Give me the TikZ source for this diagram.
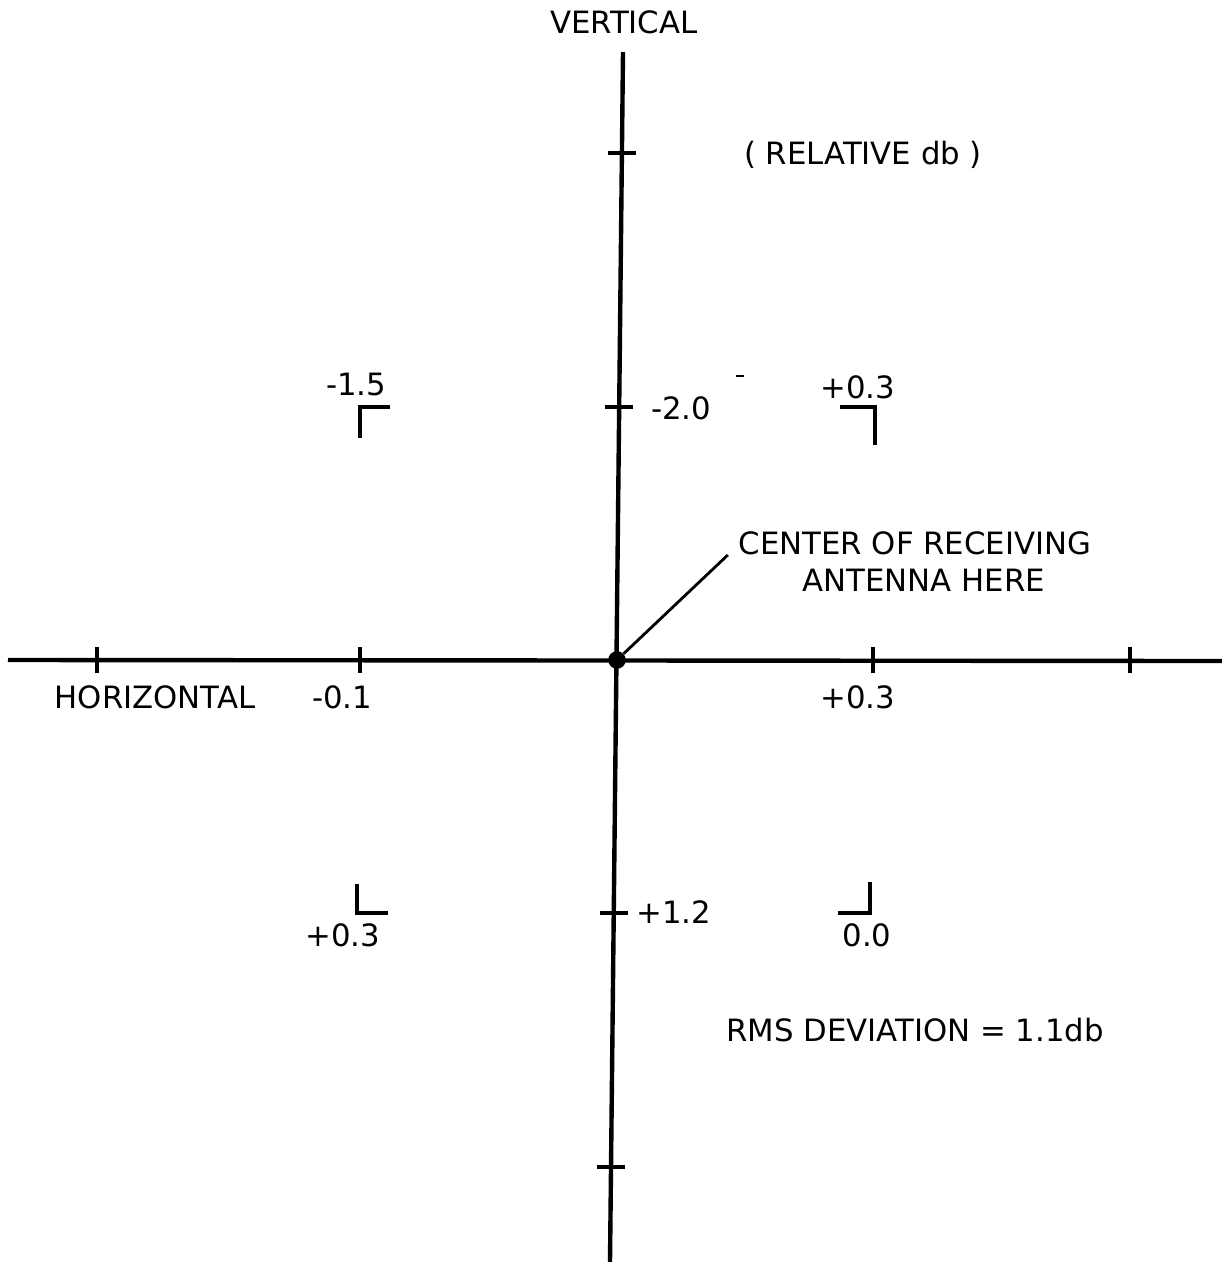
\documentclass[tikz,border=0pt]{standalone}
\usepackage{fontspec}
\setmainfont{DejaVu Sans}
\usetikzlibrary{positioning}

\begin{document}
\begin{tikzpicture}[
  x=0.02cm,y=-0.02cm,
  font=\fontsize{17.5}{22}\selectfont,
  axis/.style={line width=2.5pt},
  tickmark/.style={line width=2.2pt},
  corner/.style={line width=2.2pt},
  lbl/.style={inner sep=0pt,anchor=center},
  leader/.style={line width=1.6pt}
]
\useasboundingbox (0,0) rectangle (1222,1262);

% -------------------------------------------------------------------------
% Axes
% -------------------------------------------------------------------------
\coordinate (vtop) at (623,52);
\coordinate (vbot) at (610,1262);
\coordinate (hleft) at (8,660);
\coordinate (hright) at (1222,661);
\draw[axis] (vtop) -- (vbot);
\draw[axis] (hleft) -- (hright);
\foreach \x in {97,360,873,1130}
  {\draw[tickmark] (\x,647) -- (\x,673);}
\foreach \x/\y in {622/153,619/407,614/913,611/1167}
  {\draw[tickmark] (\x-14,\y) -- (\x+14,\y);}

\node[lbl] (vertical) at (624,22) {VERTICAL};
\node[lbl] (horizontal) at (155,697) {HORIZONTAL};
\node[lbl] (relative) at (863,155) {( RELATIVE db )};

% -------------------------------------------------------------------------
% Readings
% -------------------------------------------------------------------------
\draw[corner] (390,407) -- (360,407) -- (360,438);
\draw[corner] (840,407) -- (875,407) -- (875,445);
\draw[corner] (357,884) -- (357,913) -- (388,913);
\draw[corner] (838,913) -- (870,913) -- (870,882);

\node[lbl] (tl) at (356,385) {-1.5};
\node[lbl] (tr) at (858,387) {+0.3};
\node[lbl] (bl) at (343,935) {+0.3};
\node[lbl] (br) at (867,935) {0.0};
\node[lbl] (top) at (681,408) {-2.0};
\node[lbl] (bottom) at (674,912) {+1.2};
\node[lbl] (left) at (342,697) {-0.1};
\node[lbl] (right) at (858,697) {+0.3};
\draw[line width=1.2pt] (736,376) -- (744,376);

% -------------------------------------------------------------------------
% Centre of antenna
% -------------------------------------------------------------------------
\node[circle,fill,inner sep=0pt,minimum size=10pt] (center) at (617,660) {};
\node[lbl] (antenna1) at (915,543) {CENTER OF RECEIVING};
\node[lbl,below=8pt of antenna1,xshift=5pt] (antenna2) {ANTENNA HERE};
\draw[leader] (center) -- ([xshift=-6pt]antenna1.south west);

\node[lbl] (rms) at (915,1030) {RMS DEVIATION = 1.1db};
\end{tikzpicture}
\end{document}
